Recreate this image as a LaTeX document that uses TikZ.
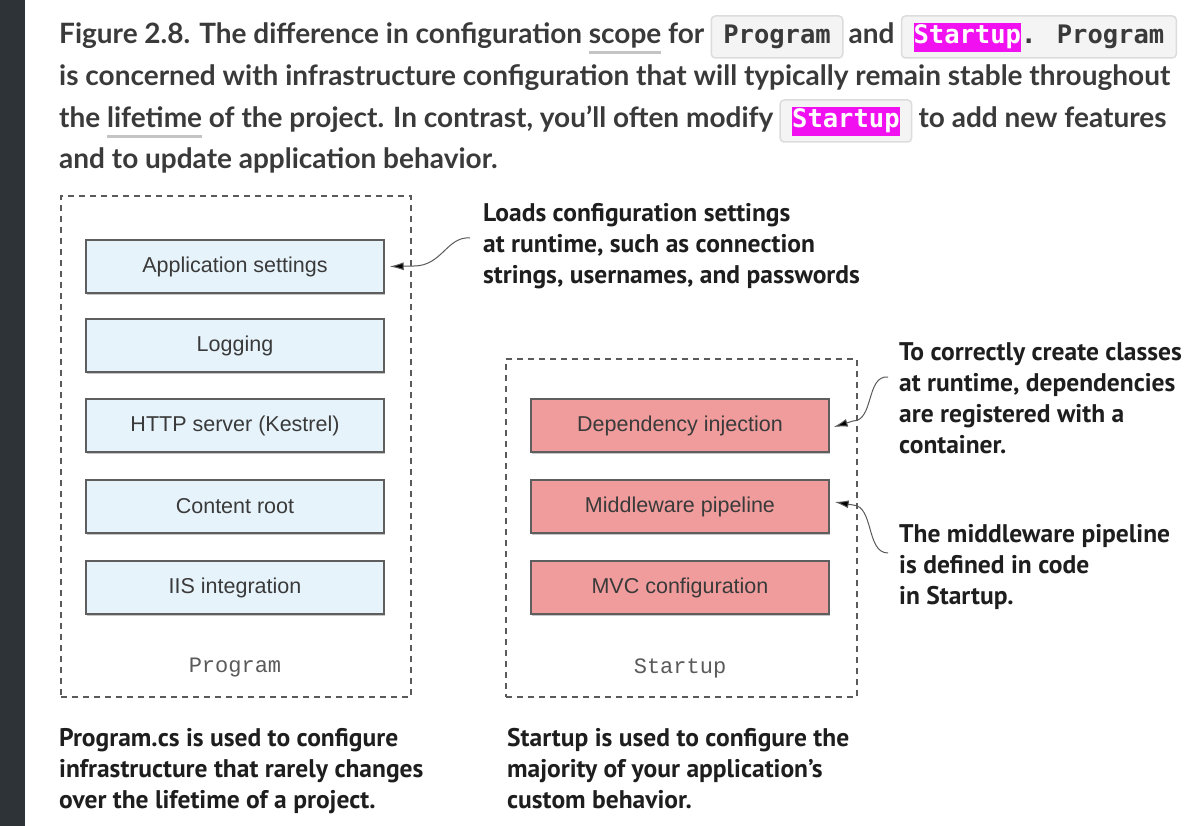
\documentclass[tikz,border=0pt]{standalone}
\usepackage{fontspec}
\setmainfont{Lato}
\newfontfamily\titlefont{Lato}
\newfontfamily\codefont{DejaVu Sans Mono}
\newfontfamily\boxfont{Liberation Sans}
\newfontfamily\labfont{Liberation Mono}
\newfontfamily\annfont{PT Sans}
\usetikzlibrary{arrows.meta,calc,shadows}
\definecolor{barc}{HTML}{2D3337}
\definecolor{ttlc}{HTML}{3A3A3A}
\definecolor{ulgray}{HTML}{C4C4C4}
\definecolor{codebg}{HTML}{F4F4F4}
\definecolor{codebd}{HTML}{DCDCDC}
\definecolor{hlmag}{HTML}{F010F0}
\definecolor{bluef}{HTML}{E6F3FB}
\definecolor{redf}{HTML}{F09C9C}
\definecolor{boxbd}{HTML}{5E5E5E}
\definecolor{dashc}{HTML}{5A5A5A}
\definecolor{annc}{HTML}{1E1E1E}
\newsavebox\gulbox
\newcommand\gul[1]{\sbox\gulbox{#1}\rlap{\textcolor{ulgray}{\rule[-10pt]{\wd\gulbox}{3pt}}}\usebox\gulbox}
\newcommand\hlt[1]{{\setlength\fboxsep{0pt}\colorbox{hlmag}{\textcolor{white}{\rule[-8pt]{0pt}{29pt}#1}}}}
\tikzset{
  ttl/.style={inner sep=0, anchor=base west, text=ttlc, font=\titlefont\bfseries\fontsize{28}{34}\selectfont},
  codebx/.style={anchor=base west, fill=codebg, draw=codebd, line width=1.5, rounded corners=4,
     inner xsep=12, inner ysep=6, text height=22, text depth=8, text=ttlc,
     font=\codefont\bfseries\fontsize{25.5}{31}\selectfont},
  dashbox/.style={draw=dashc, line width=1.2, dash pattern=on 6 off 5, inner sep=0},
  bbox/.style={draw=boxbd, line width=1.4, minimum width=298, minimum height=53, inner sep=0,
     text=ttlc, font=\boxfont\fontsize{21.5}{25}\selectfont,
     drop shadow={shadow xshift=1.2pt, shadow yshift=-1.5pt, opacity=0.45}},
  bluebox/.style={bbox, fill=bluef},
  redbox/.style={bbox, fill=redf},
  lab/.style={inner sep=0, text=dashc, font=\labfont\fontsize{22}{26}\selectfont},
  ann/.style={inner sep=0, anchor=north west, align=left, text=annc,
     font=\annfont\bfseries\fontsize{25.5}{31}\selectfont},
  conn/.style={draw=dashc, line width=1, -{Latex[length=14,width=8,fill=black]}},
}
\begin{document}
\begin{tikzpicture}[x=1pt,y=-1pt]
\useasboundingbox (0,0) rectangle (1196,826);
\fill[white] (0,0) rectangle (1196,826);
\fill[barc] (0,0) rectangle (25,826);

% title
\node[ttl] (t1) at (59,44) {Figure 2.8. The difference in configuration \gul{scope} for};
\node[codebx] (c1) at ($(t1.base east)+(6,0)$) {Program};
\node[ttl] (t1b) at ($(c1.base east)+(5,0)$) {and};
\node[codebx] (c2) at ($(t1b.base east)+(6,0)$) {\hlt{Startup}. Program};
\node[ttl] (t2) at (59,86) {is concerned with infrastructure configuration that will typically remain stable throughout};
\node[ttl] (t3) at (59,128) {the \gul{lifetime} of the project. In contrast, you’ll often modify};
\node[codebx] (c3) at ($(t3.base east)+(6,0)$) {\hlt{Startup}};
\node[ttl] (t3b) at ($(c3.base east)+(6,0)$) {to add new features};
\node[ttl] (t4) at (59,169) {and to update application behavior.};

% containers
\node[dashbox, minimum width=350, minimum height=501] (prog) at (236,446.5) {};
\node[dashbox, minimum width=351, minimum height=338] (start) at (681.5,528) {};

% program boxes
\node[bluebox] (app) at (235,266.5) {Application settings};
\node[bluebox] (log) at (235,345.5) {Logging};
\node[bluebox] (http) at (235,425.5) {HTTP server (Kestrel)};
\node[bluebox] (croot) at (235,506.5) {Content root};
\node[bluebox] (iis) at (235,587.5) {IIS integration};
\node[lab] (proglab) at (235,668) {Program};

% startup boxes
\node[redbox] (di) at (680,425.5) {Dependency injection};
\node[redbox] (mw) at (680,506.5) {Middleware pipeline};
\node[redbox] (mvc) at (680,587.5) {MVC configuration};
\node[lab] (sulab) at (680,668) {Startup};

% annotations
\node[ann] (a1) at (483,203) {Loads configuration settings\\at runtime, such as connection\\strings, usernames, and passwords};
\node[ann] (a2) at (899,342) {To correctly create classes\\at runtime, dependencies\\are registered with a\\container.};
\node[ann] (a3) at (899,524) {The middleware pipeline\\is defined in code\\in Startup.};
\node[ann] (b1) at (59,728) {Program.cs is used to configure\\infrastructure that rarely changes\\over the lifetime of a project.};
\node[ann] (b2) at (507,728) {Startup is used to configure the\\majority of your application’s\\custom behavior.};

% connectors
\coordinate (s1) at (470,238);
\coordinate (s2) at (888,377);
\coordinate (s3) at (888,553);
\draw[conn] (s1) .. controls (447,236) and (442,266) .. (414,266) -- ($(app.east)+(5,0)$);
\draw[conn] (s2) .. controls (866,375) and (874,421) .. (853,421) -- ($(di.east)+(4,1.5)$);
\draw[conn] (s3) .. controls (866,553) and (874,506) .. (853,505) -- ($(mw.east)+(5,-4.5)$);
\end{tikzpicture}
\end{document}
